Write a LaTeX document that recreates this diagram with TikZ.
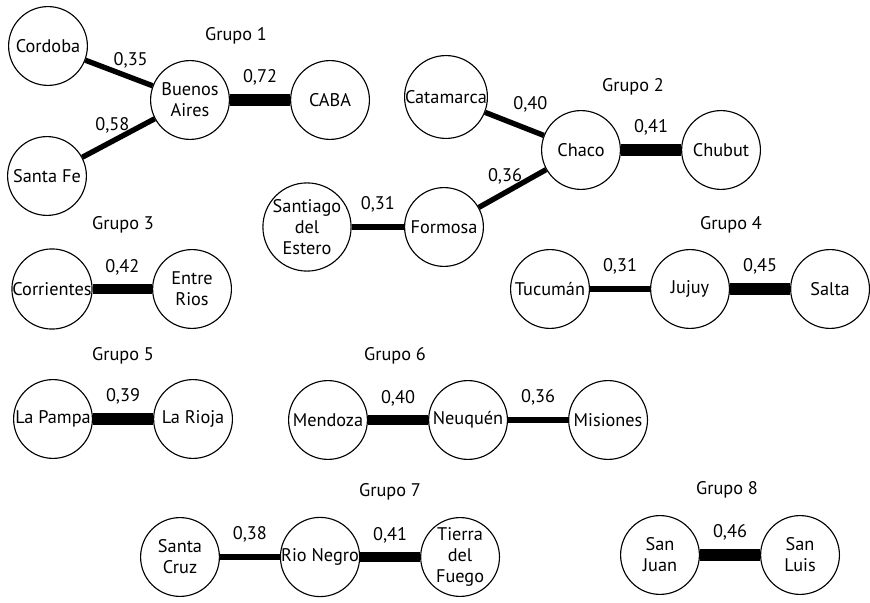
\documentclass[tikz,border=0pt]{standalone}
\usepackage{fontspec}
\setmainfont{PT Sans}
\usepackage{tikz}
\tikzstyle{prov}=[circle,draw,thick,minimum size=1.97cm,inner sep=0pt,align=center,font=\fontsize{13}{15}\selectfont]
\tikzstyle{grupo}=[font=\fontsize{13}{15}\selectfont]
\tikzstyle{peso}=[font=\fontsize{13}{15}\selectfont]
\tikzstyle{fuerte}=[line width=8.5pt]
\tikzstyle{medio}=[line width=7pt]
\tikzstyle{debil}=[line width=3.8pt]

\begin{document}
\begin{tikzpicture}[x=0.025cm,y=-0.025cm,node distance=3.5cm]
      \useasboundingbox (0,0) rectangle (870,603);
      % Grupo 1
      \node (cor) [prov] at (48,46) {Cordoba};
      \node (bsas) [prov] at (190,100) {Buenos\\Aires};
      \node (caba) [prov, right of=bsas] {CABA};
      \node (sfe) [prov] at (47,176) {Santa Fe};
      \node [grupo] at (236,36) {Grupo 1};
      \draw [debil] (cor) -- node[peso,above right=-2pt,xshift=-7pt] {0,35} (bsas);
      \draw [debil] (sfe) -- node[peso,above left=-2pt,xshift=11pt] {0,58} (bsas);
      \draw [fuerte] (bsas) -- node[peso,above=3pt] {0,72} (caba);
      % Grupo 2
      \node (cat) [prov] at (446,97) {Catamarca};
      \node (cha) [prov] at (581,150) {Chaco};
      \node (chu) [prov, right of=cha] {Chubut};
      \node (for) [prov] at (444,227) {Formosa};
      \node (sde) [prov] at (307,227) {Santiago\\del\\Estero};
      \node [grupo] at (633,87) {Grupo 2};
      \draw [debil] (cat) -- node[peso,above right=-2pt,xshift=-4pt,yshift=5pt] {0,40} (cha);
      \draw [fuerte] (cha) -- node[peso,above=3pt] {0,41} (chu);
      \draw [debil] (for) -- node[peso,above left=-2pt,xshift=10pt] {0,36} (cha);
      \draw [debil] (sde) -- node[peso,above=5pt] {0,31} (for);
      % Grupo 3
      \node (corr) [prov] at (52,289) {Corrientes};
      \node (erios) [prov, right of=corr] {Entre\\Rios};
      \node [grupo] at (123,225) {Grupo 3};
      \draw [medio] (corr) -- node[peso,above=3pt] {0,42} (erios);
      % Grupo 4
      \node (tuc) [prov] at (550,289) {Tucumán};
      \node (juj) [prov, right of=tuc] {Jujuy};
      \node (sal) [prov, right of=juj] {Salta};
      \node [grupo] at (731,225) {Grupo 4};
      \draw [debil] (tuc) -- node[peso,above=5pt] {0,31} (juj);
      \draw [fuerte] (juj) -- node[peso,above=3pt] {0,45} (sal);
      % Grupo 5
      \node (lpam) [prov] at (53,419) {La Pampa};
      \node (lrio) [prov, right of=lpam] {La Rioja};
      \node [grupo] at (123,356) {Grupo 5};
      \draw [fuerte] (lpam) -- node[peso,above=3pt] {0,39} (lrio);
      % Grupo 6
      \node (men) [prov] at (328,420) {Mendoza};
      \node (neu) [prov, right of=men] {Neuquén};
      \node (mis) [prov, right of=neu] {Misiones};
      \node [grupo] at (395,356) {Grupo 6};
      \draw [medio] (men) -- node[peso,above=3pt] {0,40} (neu);
      \draw [debil] (neu) -- node[peso,above=5pt] {0,36} (mis);
      % Grupo 7
      \node (scruz) [prov] at (180,557) {Santa\\Cruz};
      \node (rneg) [prov, right of=scruz] {Rio Negro};
      \node (tdf) [prov, right of=rneg] {Tierra\\del\\Fuego};
      \node [grupo] at (390,492) {Grupo 7};
      \draw [debil] (scruz) -- node[peso,above=5pt] {0,38} (rneg);
      \draw [medio] (rneg) -- node[peso,above=3pt] {0,41} (tdf);
      % Grupo 8
      \node (sjuan) [prov] at (660,555) {San\\Juan};
      \node (sluis) [prov, right of=sjuan] {San\\Luis};
      \node [grupo] at (727,490) {Grupo 8};
      \draw [fuerte] (sjuan) -- node[peso,above=3pt] {0,46} (sluis);
    \end{tikzpicture}
\end{document}
